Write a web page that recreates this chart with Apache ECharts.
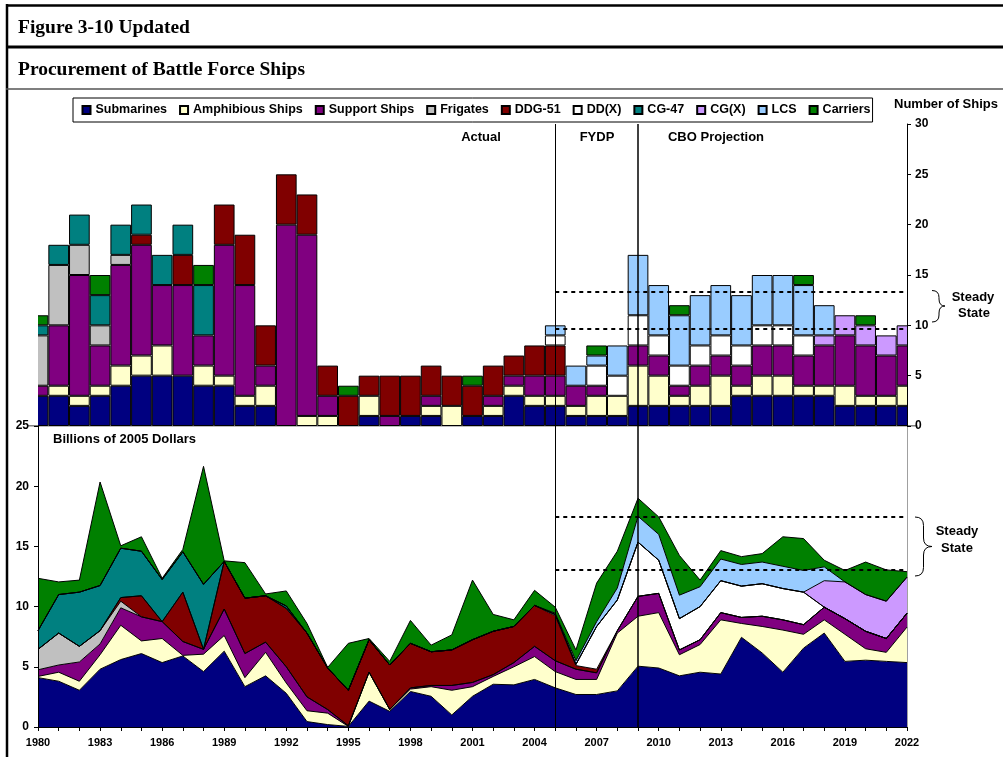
<!DOCTYPE html>
<html>
<head>
<meta charset="utf-8">
<title>Procurement of Battle Force Ships</title>
<script src="https://cdn.jsdelivr.net/npm/echarts@6/dist/echarts.min.js"></script>
<style>
  html, body { margin: 0; padding: 0; background: #fff; }
  #chart { width: 1003px; height: 757px; }
</style>
</head>
<body>
<div id="chart"></div>
<script>
const years = [];
for (let y = 1980; y <= 2022; y++) years.push(String(y));

// number of ships bought per year (top panel)
const subShips = [3, 3, 2, 3, 4, 5, 5, 5, 4, 4,  2, 2, 0, 0, 0, 0, 1, 0, 1, 1,  0, 1, 1, 3, 2, 2, 1, 1, 1, 2,  2, 2, 2, 2, 3, 3, 3, 3, 3, 2,  2, 2, 2];
const amphShips = [0, 1, 1, 1, 2, 2, 3, 0, 2, 1,  1, 2, 0, 1, 1, 0, 2, 0, 0, 1,  2, 0, 1, 1, 1, 1, 1, 2, 2, 4,  3, 1, 2, 3, 1, 2, 2, 1, 1, 2,  1, 1, 2];
const supShips = [1, 6, 12, 4, 10, 11, 6, 9, 3, 13,  11, 2, 20, 18, 2, 0, 0, 1, 0, 1,  0, 0, 1, 1, 2, 2, 2, 1, 0, 2,  2, 1, 2, 2, 2, 3, 3, 3, 4, 5,  5, 4, 4];
const frigShips = [5, 6, 3, 2, 1, 0, 0, 0, 0, 0,  0, 0, 0, 0, 0, 0, 0, 0, 0, 0,  0, 0, 0, 0, 0, 0, 0, 0, 0, 0,  0, 0, 0, 0, 0, 0, 0, 0, 0, 0,  0, 0, 0];
const ddgShips = [0, 0, 0, 0, 0, 1, 0, 3, 0, 4,  5, 4, 5, 4, 3, 3, 2, 4, 4, 3,  3, 3, 3, 2, 3, 3, 0, 0, 0, 0,  0, 0, 0, 0, 0, 0, 0, 0, 0, 0,  0, 0, 0];
const ddxShips = [0, 0, 0, 0, 0, 0, 0, 0, 0, 0,  0, 0, 0, 0, 0, 0, 0, 0, 0, 0,  0, 0, 0, 0, 0, 1, 0, 2, 2, 3,  2, 2, 2, 2, 2, 2, 2, 2, 0, 0,  0, 0, 0];
const cg47Ships = [1, 2, 3, 3, 3, 3, 3, 3, 5, 0,  0, 0, 0, 0, 0, 0, 0, 0, 0, 0,  0, 0, 0, 0, 0, 0, 0, 0, 0, 0,  0, 0, 0, 0, 0, 0, 0, 0, 0, 0,  0, 0, 0];
const cgxShips = [0, 0, 0, 0, 0, 0, 0, 0, 0, 0,  0, 0, 0, 0, 0, 0, 0, 0, 0, 0,  0, 0, 0, 0, 0, 0, 0, 0, 0, 0,  0, 0, 0, 0, 0, 0, 0, 0, 1, 2,  2, 2, 2];
const lcsShips = [0, 0, 0, 0, 0, 0, 0, 0, 0, 0,  0, 0, 0, 0, 0, 0, 0, 0, 0, 0,  0, 0, 0, 0, 0, 1, 2, 1, 3, 6,  5, 5, 5, 5, 5, 5, 5, 5, 3, 0,  0, 0, 0];
const carShips = [1, 0, 0, 2, 0, 0, 0, 0, 2, 0,  0, 0, 0, 0, 0, 1, 0, 0, 0, 0,  0, 1, 0, 0, 0, 0, 0, 1, 0, 0,  0, 1, 0, 0, 0, 0, 0, 1, 0, 0,  1, 0, 0];

// billions of 2005 dollars per year (bottom panel)
const subCost = [4.1, 3.8, 3.05, 4.8, 5.6, 6.1, 5.35, 5.9, 4.6, 6.3,  3.35, 4.25, 2.8, 0.45, 0.2, 0.05, 2.15, 1.3, 2.95, 2.55,  1.0, 2.55, 3.55, 3.5, 3.95, 3.25, 2.7, 2.7, 3.0, 5.05,  4.9, 4.25, 4.55, 4.4, 7.45, 6.15, 4.55, 6.55, 7.8, 5.45,  5.55, 5.45, 5.35];
const amphCost = [0.1, 0.75, 0.75, 1.2, 2.85, 1.05, 2.0, 0.05, 1.45, 1.3,  0.75, 1.95, 0.85, 0.9, 0.95, 0, 2.4, 0.15, 0.2, 0.8,  2.05, 0.8, 0.65, 1.5, 1.9, 1.35, 1.25, 1.25, 4.8, 4.15,  4.6, 1.75, 2.3, 4.5, 1.15, 2.2, 3.5, 1.15, 1.1, 2.25,  0.95, 0.75, 2.95];
const supCost = [0.55, 0.6, 1.6, 0.9, 1.45, 2.0, 1.4, 1.15, 0.4, 2.2,  2.0, 0.85, 1.35, 1.15, 0.3, 0.05, 0, 0, 0.1, 0.1,  0.4, 0.35, 0.15, 0.35, 0.85, 0.9, 0.85, 0.55, 0.2, 1.65,  1.6, 0.4, 0.4, 0.6, 0.5, 0.85, 0.85, 0.8, 1.05, 1.3,  1.45, 1.15, 1.15];
const frigCost = [1.7, 2.65, 1.3, 1.1, 0.55, 0, 0, 0, 0, 0,  0, 0, 0, 0, 0, 0, 0, 0, 0, 0,  0, 0, 0, 0, 0, 0, 0, 0, 0, 0,  0, 0, 0, 0, 0, 0, 0, 0, 0, 0,  0, 0, 0];
const ddgCost = [0, 0, 0, 0, 0.3, 1.75, 0, 4.1, 0, 3.95,  4.6, 3.85, 4.85, 5.3, 3.45, 2.95, 2.7, 3.7, 3.7, 2.8,  2.95, 3.55, 3.6, 3.0, 3.4, 3.75, 0.3, 0.3, 0, 0,  0, 0, 0, 0, 0, 0, 0, 0, 0, 0,  0, 0, 0];
const ddxCost = [0, 0, 0, 0, 0, 0, 0, 0, 0, 0,  0, 0, 0, 0, 0, 0, 0, 0, 0, 0,  0, 0, 0, 0, 0, 0.1, 0.1, 3.55, 2.55, 4.5,  2.75, 2.6, 2.75, 2.65, 2.6, 2.7, 2.6, 2.7, 0, 0,  0, 0, 0];
const cg47Cost = [1.55, 3.2, 4.5, 3.75, 4.1, 3.7, 3.5, 3.35, 5.4, 0,  0, 0, 0.2, 0, 0, 0, 0, 0, 0, 0,  0, 0, 0, 0, 0, 0, 0, 0, 0, 0,  0, 0, 0, 0, 0, 0, 0, 0, 0, 0,  0, 0, 0];
const cgxCost = [0, 0, 0, 0, 0, 0, 0, 0, 0, 0,  0, 0, 0, 0, 0, 0, 0, 0, 0, 0,  0, 0, 0, 0, 0, 0, 0, 0, 0, 0,  0, 0, 0, 0, 0, 0, 0, 0, 2.2, 3.05,  3.05, 3.1, 3.0];
const lcsCost = [0, 0, 0, 0, 0, 0, 0, 0, 0, 0,  0, 0, 0, 0, 0, 0, 0, 0, 0, 0,  0, 0, 0, 0, 0, 0.1, 0.3, 0.4, 1.0, 2.15,  2.15, 1.95, 1.65, 1.8, 1.8, 1.8, 1.85, 1.8, 1.15, 0,  0, 0, 0];
const carCost = [4.35, 1.05, 1.0, 8.6, 0.2, 1.2, 0.1, 0.2, 9.8, 0.05,  2.95, 0.15, 1.25, 0.8, 0.05, 3.9, 0.1, 0.3, 1.9, 0.55,  1.25, 4.95, 1.4, 0.55, 1.25, 0.5, 0.9, 3.2, 3.05, 1.5,  1.45, 3.3, 0.55, 0.7, 0.65, 0.7, 2.45, 2.65, 0.55, 0.95,  2.7, 2.6, 0.45];

// steady state ranges
const steadyShips = [9.7, 13.3];
const steadyCost = [13.05, 17.5];

const names = ['Submarines', 'Amphibious Ships', 'Support Ships', 'Frigates', 'DDG-51', 'DD(X)', 'CG-47', 'CG(X)', 'LCS', 'Carriers'];
const colors = ['#000080', '#FFFFCC', '#800080', '#C0C0C0', '#800000', '#FFFFFF', '#008080', '#CC99FF', '#99CCFF', '#008000'];
const shipData = [subShips, amphShips, supShips, frigShips, ddgShips, ddxShips, cg47Ships, cgxShips, lcsShips, carShips];
const costData = [subCost, amphCost, supCost, frigCost, ddgCost, ddxCost, cg47Cost, cgxCost, lcsCost, carCost];

const font = 'Arial, "Liberation Sans", sans-serif';
const serif = '"Times New Roman", "Liberation Serif", serif';

// plot edges shared by both panels; the bars sit on the same year points
// as the area chart, so the ship grid is widened by half a bar each side
const plotLeft = 38, plotRight = 907;
const halfBar = (plotRight - plotLeft) / (years.length - 1) / 2;

function periodLines(steady) {
  return {
    silent: true,
    symbol: ['none', 'none'],
    label: { show: false },
    animation: false,
    data: [
      { xAxis: '2005', lineStyle: { type: 'solid', color: '#000', width: 1 } },
      { xAxis: '2009', lineStyle: { type: 'solid', color: '#000', width: 1.5 } },
      [{ coord: ['2005', steady[0]] }, { coord: ['2022', steady[0]] }],
      [{ coord: ['2005', steady[1]] }, { coord: ['2022', steady[1]] }]
    ],
    lineStyle: { type: [4, 4], color: '#000', width: 2 }
  };
}

const barSeries = names.map((name, i) => {
  const s = {
    name: name,
    type: 'bar',
    stack: 'ships',
    xAxisIndex: 0,
    yAxisIndex: 0,
    barWidth: '100%',
    data: shipData[i].map(v => (v === 0 ? '-' : v)),
    itemStyle: { color: colors[i], borderColor: '#000', borderWidth: 1 }
  };
  if (i === names.length - 1) s.markLine = periodLines(steadyShips);
  return s;
});

const areaSeries = names.map((name, i) => {
  const s = {
    name: name,
    type: 'line',
    stack: 'cost',
    xAxisIndex: 1,
    yAxisIndex: 1,
    data: costData[i],
    symbol: 'none',
    lineStyle: { color: '#000', width: 1 },
    itemStyle: { color: colors[i] },
    areaStyle: { color: colors[i], opacity: 1 }
  };
  if (i === names.length - 1) s.markLine = periodLines(steadyCost);
  return s;
});

const boldLabel = { fontFamily: font, fontWeight: 'bold', color: '#000' };

function txt(text, x, y, size, align, family) {
  return {
    type: 'text',
    z: 10,
    style: {
      text: text, x: x, y: y,
      font: 'bold ' + size + 'px ' + (family || font),
      fill: '#000',
      textAlign: align || 'left',
      textVerticalAlign: 'middle'
    }
  };
}

function seg(x1, y1, x2, y2, w, c) {
  return { type: 'line', z: 10, shape: { x1: x1, y1: y1, x2: x2, y2: y2 }, style: { stroke: c || '#000', lineWidth: w } };
}

function curve(x1, y1, cx, cy, x2, y2) {
  return {
    type: 'bezierCurve', z: 10,
    shape: { x1: x1, y1: y1, cpx1: cx, cpy1: cy, x2: x2, y2: y2 },
    style: { stroke: '#000', lineWidth: 1, fill: 'none' }
  };
}

// right curly brace: ends at x0, stem at xs, tip at xt
function brace(x0, xs, xt, yTop, yMid, yBot) {
  const r = xs - x0;
  return [
    curve(x0, yTop, xs, yTop, xs, yTop + r),
    seg(xs, yTop + r, xs, yMid - r, 1),
    curve(xs, yMid - r, xs, yMid, xt, yMid),
    curve(xt, yMid, xs, yMid, xs, yMid + r),
    seg(xs, yMid + r, xs, yBot - r, 1),
    curve(xs, yBot - r, xs, yBot, x0, yBot)
  ];
}

// white masks that trim the half bars of 1980 and 2022 at the plot edges
function mask(x, w) {
  return { type: 'rect', z: 3, shape: { x: x, y: 122.5, width: w, height: 303 }, style: { fill: '#fff' } };
}

const chart = echarts.init(document.getElementById('chart'));
chart.setOption({
  animation: false,
  backgroundColor: '#fff',
  legend: {
    data: names,
    left: 73,
    top: 98,
    padding: [5.5, 2, 5.5, 8.5],
    itemWidth: 8,
    itemHeight: 8,
    itemGap: 12,
    icon: 'rect',
    borderColor: '#000',
    borderWidth: 1,
    backgroundColor: '#fff',
    textStyle: { fontFamily: font, fontWeight: 'bold', fontSize: 12.5, color: '#000' }
  },
  grid: [
    { left: plotLeft - halfBar, right: 1003 - plotRight - halfBar, top: 124, height: 302 },
    { left: plotLeft, right: 1003 - plotRight, top: 426, height: 301 }
  ],
  xAxis: [
    {
      gridIndex: 0, type: 'category', data: years, boundaryGap: true, position: 'top',
      axisLine: { lineStyle: { color: '#a6a6a6', width: 1.5 } },
      axisTick: { show: false }, axisLabel: { show: false }
    },
    {
      gridIndex: 1, type: 'category', data: years, boundaryGap: false,
      axisLine: { lineStyle: { color: '#000' } },
      axisTick: { interval: 0, length: 4, lineStyle: { color: '#000' } },
      axisLabel: Object.assign({ interval: 2, fontSize: 11, margin: 10 }, boldLabel)
    }
  ],
  yAxis: [
    {
      gridIndex: 0, type: 'value', position: 'right', offset: -halfBar, z: 5,
      min: 0, max: 30, interval: 5,
      axisLine: { show: true, lineStyle: { color: '#000' } },
      axisTick: { show: true, length: 4, lineStyle: { color: '#000' } },
      splitLine: { show: false },
      axisLabel: Object.assign({ fontSize: 12, margin: 8 }, boldLabel)
    },
    {
      gridIndex: 1, type: 'value', position: 'left', z: 5, min: 0, max: 25, interval: 5,
      axisLine: { show: true, lineStyle: { color: '#000' } },
      axisTick: { show: true, length: 4, lineStyle: { color: '#000' } },
      splitLine: { show: false },
      axisLabel: Object.assign({ fontSize: 12, margin: 9 }, boldLabel)
    },
    {
      gridIndex: 1, type: 'value', position: 'right', min: 0, max: 25,
      axisLine: { show: true, lineStyle: { color: '#a0a0a0' } },
      axisTick: { show: false }, axisLabel: { show: false }, splitLine: { show: false }
    }
  ],
  series: barSeries.concat(areaSeries),
  graphic: [
    mask(9, plotLeft - 9),
    mask(plotRight + 0.5, 12),
    // frame of the figure
    seg(7, 4, 7, 757, 2.5),
    seg(6, 5.5, 1003, 5.5, 2.5),
    seg(6, 47, 1003, 47, 3),
    seg(6, 89, 1003, 89, 1.5, '#555'),
    txt('Figure 3-10 Updated', 18, 27.5, 19.5, 'left', serif),
    txt('Procurement of Battle Force Ships', 18, 70, 19.5, 'left', serif),
    // panel annotations
    txt('Actual', 481, 137, 13, 'center'),
    txt('FYDP', 597, 137, 13, 'center'),
    txt('CBO Projection', 716, 137, 13, 'center'),
    txt('Number of Ships', 894, 104, 13, 'left'),
    txt('Billions of 2005 Dollars', 53, 439, 13, 'left'),
    txt('Steady', 973, 297, 13, 'center'),
    txt('State', 974, 313, 13, 'center'),
    txt('Steady', 957, 531, 13, 'center'),
    txt('State', 957, 548, 13, 'center')
  ].concat(brace(932, 939, 945, 290.5, 306, 322), brace(915, 923.5, 932, 517, 546.5, 576))
});
</script>
</body>
</html>
